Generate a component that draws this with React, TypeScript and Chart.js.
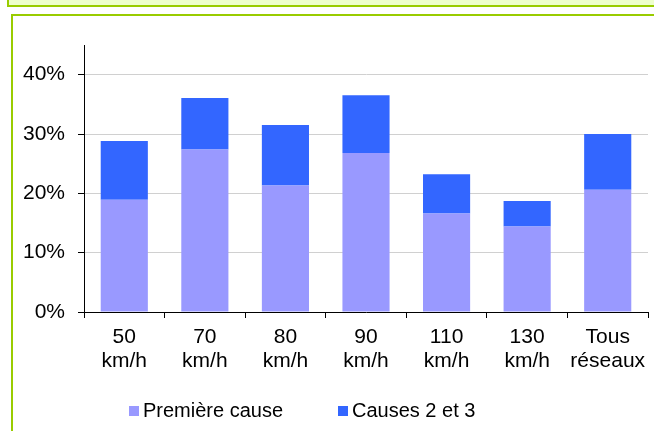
import React, { useEffect, useRef } from "react";
import { Chart, registerables } from "chart.js";

Chart.register(...registerables);

const categories: string[][] = [
  ["50", "km/h"],
  ["70", "km/h"],
  ["80", "km/h"],
  ["90", "km/h"],
  ["110", "km/h"],
  ["130", "km/h"],
  ["Tous", "réseaux"],
];
const premiereCause = [18.9, 27.4, 21.3, 26.8, 16.6, 14.4, 20.6];
const causes2et3 = [9.9, 8.65, 10.2, 9.75, 6.6, 4.3, 9.4];
const yTicks = [0, 10, 20, 30, 40];
const seriesLabels = ["Première cause", "Causes 2 et 3"];
const seriesColors = ["#9999FF", "#3366FF"];

const FONT = '"Liberation Sans", Arial, sans-serif';

const legendPlugin = {
  id: "customLegend",
  afterDraw(chart: any) {
    const ctx = chart.ctx;
    const xs = [129, 338];
    const y = 406;
    ctx.save();
    chart.data.datasets.forEach((ds: any, i: number) => {
      ctx.fillStyle = ds.backgroundColor;
      ctx.fillRect(xs[i], y, 10, 10);
      ctx.fillStyle = "#000";
      ctx.font = `20px ${FONT}`;
      ctx.textBaseline = "alphabetic";
      ctx.textAlign = "left";
      ctx.fillText(ds.label, xs[i] + 14, 417);
    });
    ctx.restore();
  },
};

export default function App() {
  const ref = useRef<HTMLCanvasElement | null>(null);
  useEffect(() => {
    if (!ref.current) return;
    const chart = new Chart(ref.current, {
      type: "bar",
      data: {
        labels: categories,
        datasets: [
          {
            label: seriesLabels[0],
            data: premiereCause,
            backgroundColor: seriesColors[0],
            barPercentage: 0.585,
            categoryPercentage: 1,
          },
          {
            label: seriesLabels[1],
            data: causes2et3,
            backgroundColor: seriesColors[1],
            barPercentage: 0.585,
            categoryPercentage: 1,
          },
        ],
      },
      options: {
        responsive: false,
        animation: false,
        devicePixelRatio: 1,
        layout: { padding: { top: 45, right: 6, left: 0, bottom: 0 } },
        plugins: {
          legend: { display: false },
          tooltip: { enabled: false },
        },
        scales: {
          x: {
            stacked: true,
            grid: {
              offset: true,
              drawOnChartArea: false,
              drawTicks: true,
              tickLength: 6,
              tickColor: "#000",
            },
            border: { color: "#000", width: 1 },
            ticks: {
              color: "#000",
              font: { family: FONT, size: 21, lineHeight: 1.16 },
              padding: 7,
              maxRotation: 0,
              autoSkip: false,
            },
            afterFit: (scale: any) => {
              scale.height = 119;
            },
          },
          y: {
            stacked: true,
            min: 0,
            max: 45,
            grid: {
              color: "#D0D0D0",
              lineWidth: 1,
              drawTicks: true,
              tickLength: 6,
              tickColor: "#000",
            },
            border: { color: "#000", width: 1 },
            ticks: {
              stepSize: 10,
              color: "#000",
              padding: 13,
              font: { family: FONT, size: 21 },
              callback: (v: any) => `${v}%`,
            },
            afterBuildTicks: (scale: any) => {
              scale.ticks = yTicks.map((v) => ({ value: v }));
            },
            afterFit: (scale: any) => {
              scale.width = 84;
            },
          },
        },
      },
      plugins: [legendPlugin],
    });
    return () => chart.destroy();
  }, []);

  return (
    <div
      style={{
        position: "fixed",
        left: 0,
        top: 0,
        width: 654,
        height: 431,
        overflow: "hidden",
        background: "#fff",
      }}
    >
      <div
        style={{
          position: "absolute",
          left: 7,
          top: -20,
          width: 700,
          height: 23,
          background: "#EEFFCC",
          border: "2px solid #99CC00",
        }}
      />
      <div
        style={{
          position: "absolute",
          left: 11,
          top: 14,
          width: 700,
          height: 500,
          background: "#FFFFFF",
          border: "2px solid #99CC00",
        }}
      />
      <canvas
        ref={ref}
        width={654}
        height={431}
        style={{ position: "absolute", left: 0, top: 0, width: 654, height: 431 }}
      />
    </div>
  );
}
